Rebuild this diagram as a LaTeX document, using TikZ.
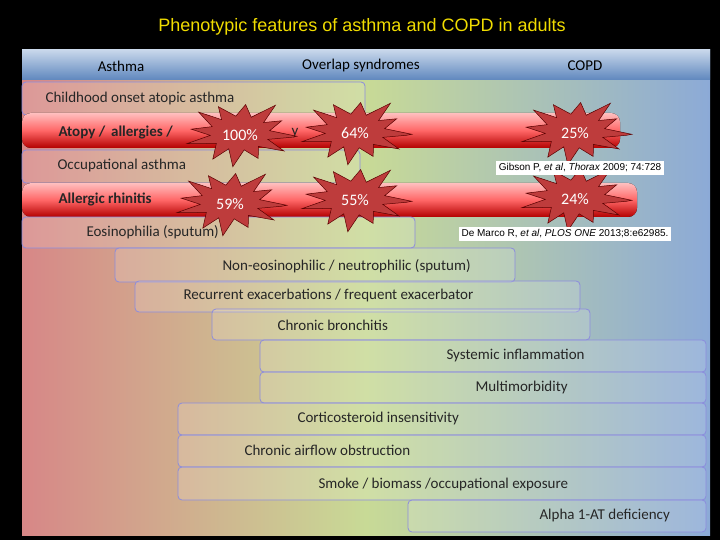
\documentclass[tikz,border=0pt]{standalone}
\usepackage{fontspec}
\setmainfont{Carlito}
\newfontfamily\arialf{Liberation Sans}
\definecolor{bgL}{RGB}{215,135,135}
\definecolor{bgM}{RGB}{200,218,150}
\definecolor{bgR}{RGB}{140,170,215}
\definecolor{burstc}{RGB}{190,60,60}
\definecolor{hdrT}{RGB}{200,215,235}
\definecolor{hdrB}{RGB}{95,135,190}
\begin{document}
\begin{tikzpicture}[x=1pt,y=-1pt,
  bar/.style={draw=black!30!blue!45,line width=0.8pt,rounded corners=4pt,fill=white,fill opacity=0.15,text opacity=1},
  redbar/.style={draw=none,rounded corners=9pt,top color=red!25!white,bottom color=red!70!black,middle color=red!60!white},
  lbl/.style={anchor=west,font=\fontsize{15}{17}\selectfont,text=black!85},
  bl/.style={anchor=west,font=\bfseries\fontsize{15}{17}\selectfont,text=black!85},
  pct/.style={font=\fontsize{16}{18}\selectfont,text=white},
  ref/.style={fill=white,font=\arialf\fontsize{10}{12}\selectfont,inner sep=2.5pt}]
\fill[black] (0,0) rectangle (720,540);
\useasboundingbox (0,0) rectangle (720,540);
\shade[left color=bgL,right color=bgR,middle color=bgM] (22,50) rectangle (710,535);
\node[font=\arialf\fontsize{18}{21}\selectfont,text={rgb,255:red,240;green,220;blue,0}] (title) at (362,27) {Phenotypic features of asthma and COPD in adults};
\shade[top color=hdrT,bottom color=hdrB] (22,50) rectangle (710,80);
\node[font=\fontsize{15}{17}\selectfont] (h1) at (121,66) {Asthma};
\node[font=\fontsize{15}{17}\selectfont] (h2) at (361,66) {Overlap syndromes};
\node[font=\fontsize{15}{17}\selectfont] (h3) at (585,66) {COPD};
% rows
\draw[bar] (22,82) rectangle (365,115);
\node[lbl] (c1) at (42,99) {Childhood onset atopic asthma};
\fill[redbar] (22,113) rectangle (620,148);
\node[bl] (c2) at (55,133) {Atopy /\, allergies /};
\node[lbl] (c2b) at (288,133) {y};
\draw[bar] (22,150) rectangle (360,183);
\node[lbl] (c3) at (54,166) {Occupational asthma};
\fill[redbar] (22,183) rectangle (637,217);
\node[bl] (c4) at (55,199) {Allergic rhinitis};
\draw[bar] (22,217) rectangle (415,248);
\node[lbl] (c5) at (83,232) {Eosinophilia (sputum)};
\draw[bar] (115,248) rectangle (515,282);
\node[lbl] (c6) at (219,266) {Non-eosinophilic / neutrophilic (sputum)};
\draw[bar] (135,281) rectangle (580,312);
\node[lbl] (c7) at (180,296) {Recurrent exacerbations / frequent exacerbator};
\draw[bar] (212,309) rectangle (590,340);
\node[lbl] (c8) at (274,325) {Chronic bronchitis};
\draw[bar] (260,340) rectangle (706,372);
\node[lbl] (c9) at (443,356) {Systemic inflammation};
\draw[bar] (260,372) rectangle (706,403);
\node[lbl] (c10) at (472,387) {Multimorbidity};
\draw[bar] (178,403) rectangle (706,435);
\node[lbl] (c11) at (294,418) {Corticosteroid insensitivity};
\draw[bar] (178,435) rectangle (706,467);
\node[lbl] (c12) at (241,450) {Chronic airflow obstruction};
\draw[bar] (178,467) rectangle (706,500);
\node[lbl] (c13) at (315,484) {Smoke / biomass /occupational exposure};
\draw[bar] (408,500) rectangle (706,532);
\node[lbl] (c14) at (536,515) {Alpha 1-AT deficiency};
% bursts
\foreach \cx/\cy/\t/\nm in {240/133/100\%/p1,355/131/64\%/p2,575/131/25\%/p3,230/202/59\%/p4,355/198/55\%/p5,575/197/24\%/p6}{
  \filldraw[fill=burstc,draw=red!35!black,line width=0.5pt,shift={(\cx,\cy)}]
    plot[samples=25,domain=0:24] ({cos(\x*15+7)*((mod(\x,2)==0)*(22+7*sin(\x*77))+30)},{sin(\x*15+7)*((mod(\x,2)==0)*(14+4*cos(\x*53))+17)}) -- cycle;
  \node[pct] (\nm) at (\cx,\cy+2) {\t};
}
\node[ref] (r1) at (580,168) {Gibson P, \textit{et al}, \textit{Thorax} 2009; 74:728};
\node[ref] (r2) at (565,234) {De Marco R, \textit{et al}, \textit{PLOS ONE} 2013;8:e62985.};
\end{tikzpicture}
\end{document}
